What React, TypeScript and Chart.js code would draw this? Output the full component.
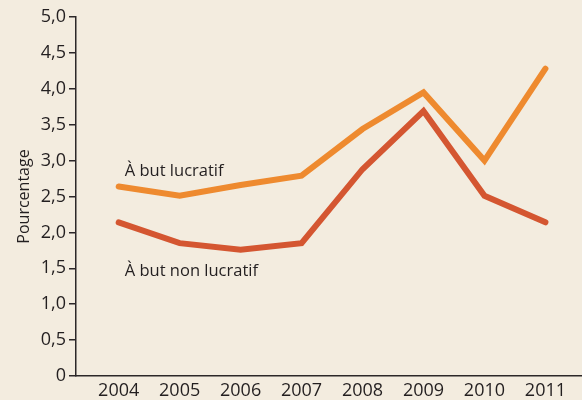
import React, { useEffect, useRef } from "react";
import { Chart, registerables } from "chart.js";

Chart.register(...registerables);

const years = [2004, 2005, 2006, 2007, 2008, 2009, 2010, 2011];
const lucratif = [2.64, 2.51, 2.66, 2.79, 3.44, 3.95, 3.0, 4.28];
const nonLucratif = [2.14, 1.85, 1.76, 1.85, 2.88, 3.69, 2.51, 2.14];
const seriesLabels = ["À but lucratif", "À but non lucratif"];
const yTicks = [0, 0.5, 1, 1.5, 2, 2.5, 3, 3.5, 4, 4.5, 5];

const FONT = "'Open Sans', sans-serif";
const AXIS = "#2b2728";

export default function App() {
  const ref = useRef<HTMLCanvasElement | null>(null);
  useEffect(() => {
    document.body.style.margin = "0";
    const canvas = ref.current!;
    const labelPlugin = {
      id: "seriesLabels",
      afterDatasetsDraw(chart: any) {
        const { ctx, scales } = chart;
        const x = scales.x;
        const y = scales.y;
        ctx.save();
        ctx.fillStyle = "#231f20";
        ctx.font = `16.5px ${FONT}`;
        ctx.textBaseline = "alphabetic";
        ctx.textAlign = "left";
        ctx.fillText(seriesLabels[0], x.getPixelForValue(2004.1), y.getPixelForValue(2.78));
        ctx.fillText(seriesLabels[1], x.getPixelForValue(2004.1), y.getPixelForValue(1.39));
        ctx.restore();
      },
    };
    const chart = new Chart(canvas, {
      type: "line",
      data: {
        datasets: [
          {
            label: seriesLabels[0],
            data: years.map((yr, i) => ({ x: yr, y: lucratif[i] })),
            borderColor: "#ee8a2f",
            borderWidth: 6,
            borderCapStyle: "round",
            borderJoinStyle: "miter",
            pointRadius: 0,
            tension: 0,
          },
          {
            label: seriesLabels[1],
            data: years.map((yr, i) => ({ x: yr, y: nonLucratif[i] })),
            borderColor: "#d45631",
            borderWidth: 6,
            borderCapStyle: "round",
            borderJoinStyle: "miter",
            pointRadius: 0,
            tension: 0,
          },
        ],
      },
      options: {
        animation: false,
        responsive: false,
        layout: { padding: { top: 17, right: 0, left: 0, bottom: 0 } },
        plugins: { legend: { display: false }, tooltip: { enabled: false } },
        scales: {
          x: {
            type: "linear",
            min: 2003.3,
            max: 2011.6,
            afterBuildTicks: (s: any) => {
              s.ticks = years.map((v) => ({ value: v }));
            },
            afterFit: (s: any) => {
              s.height = 24;
            },
            grid: { display: false, drawTicks: false },
            border: { display: true, color: AXIS, width: 1.5 },
            ticks: {
              color: "#231f20",
              font: { family: FONT, size: 18 },
              padding: 4,
              maxRotation: 0,
              autoSkip: false,
              callback: (v: any) => String(v),
            },
          },
          y: {
            min: 0,
            max: 5,
            afterBuildTicks: (s: any) => {
              s.ticks = yTicks.map((v) => ({ value: v }));
            },
            afterFit: (s: any) => {
              s.width = 76;
            },
            grid: {
              display: true,
              drawOnChartArea: false,
              drawTicks: true,
              tickLength: 7,
              color: AXIS,
              lineWidth: 1.5,
            },
            border: { display: true, color: AXIS, width: 1.5 },
            ticks: {
              color: "#231f20",
              font: { family: FONT, size: 18 },
              padding: 3,
              callback: (v: any) => (v === 0 ? "0" : Number(v).toFixed(1).replace(".", ",")),
            },
            title: {
              display: true,
              text: "Pourcentage",
              color: "#231f20",
              font: { family: FONT, size: 16 },
              padding: { top: 15, bottom: 0 },
            },
          },
        },
      },
      plugins: [labelPlugin],
    });
    return () => chart.destroy();
  }, []);
  return (
    <div style={{ position: "fixed", left: 0, top: 0, width: 582, height: 400, background: "#f3ecdf" }}>
      <canvas ref={ref} width={582} height={400} style={{ display: "block" }} />
    </div>
  );
}
